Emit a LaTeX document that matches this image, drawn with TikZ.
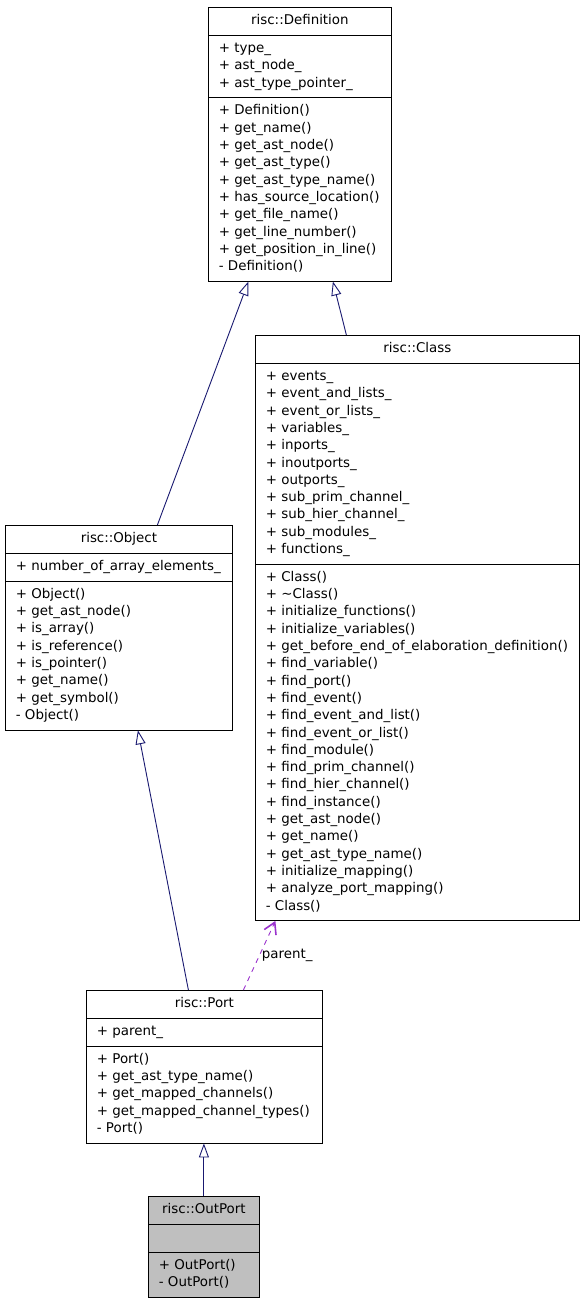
\documentclass[tikz,border=0pt]{standalone}
\usepackage{fontspec}
\setmainfont{DejaVu Sans}
\usetikzlibrary{shapes.multipart,arrows.meta}
\definecolor{navyline}{HTML}{191970}
\definecolor{usageline}{HTML}{9A32CD}
\definecolor{focusfill}{HTML}{BFBFBF}

\begin{document}
\begin{tikzpicture}
[x=1pt,y=-1pt,
umlclass/.style={rectangle split,rectangle split parts=3,draw=black,line width=0.8pt,fill=white,
  anchor=north west,inner xsep=10.5pt,inner ysep=4.85pt,align=left,
  rectangle split part align={center,left,left},font=\fontsize{13.4}{17.3}\selectfont},
umlfocus/.style={umlclass,fill=focusfill},
inherit/.style={draw=navyline,line width=0.9pt,-{Triangle[open,length=14pt,width=10pt]}},
usage/.style={draw=usageline,line width=0.9pt,dash pattern=on 5pt off 5pt,-{Straight Barb[length=11pt,width=13pt,line width=1.6pt]}},
edgeLabel/.style={font=\fontsize{13.4}{17.3}\selectfont,inner sep=1pt}]
\useasboundingbox (0,0) rectangle (584,1304);
% classes
\node[umlclass,minimum width=183pt] (def) at (208,7) {\strut risc::Definition\strut
\nodepart{two}\strut+ type\_\\+ ast\_node\_\\+ ast\_type\_pointer\_\strut
\nodepart{three}\strut+ Definition()\\+ get\_name()\\+ get\_ast\_node()\\+ get\_ast\_type()\\+ get\_ast\_type\_name()\\+ has\_source\_location()\\+ get\_file\_name()\\+ get\_line\_number()\\+ get\_position\_in\_line()\\- Definition()\strut};
\node[umlclass,minimum width=324pt] (cls) at (255,335) {\strut risc::Class\strut
\nodepart{two}\strut+ events\_\\+ event\_and\_lists\_\\+ event\_or\_lists\_\\+ variables\_\\+ inports\_\\+ inoutports\_\\+ outports\_\\+ sub\_prim\_channel\_\\+ sub\_hier\_channel\_\\+ sub\_modules\_\\+ functions\_\strut
\nodepart{three}\strut+ Class()\\+ \textasciitilde Class()\\+ initialize\_functions()\\+ initialize\_variables()\\+ get\_before\_end\_of\_elaboration\_definition()\\+ find\_variable()\\+ find\_port()\\+ find\_event()\\+ find\_event\_and\_list()\\+ find\_event\_or\_list()\\+ find\_module()\\+ find\_prim\_channel()\\+ find\_hier\_channel()\\+ find\_instance()\\+ get\_ast\_node()\\+ get\_name()\\+ get\_ast\_type\_name()\\+ initialize\_mapping()\\+ analyze\_port\_mapping()\\- Class()\strut};
\node[umlclass,minimum width=227pt] (obj) at (5,525) {\strut risc::Object\strut
\nodepart{two}\strut+ number\_of\_array\_elements\_\strut
\nodepart{three}\strut+ Object()\\+ get\_ast\_node()\\+ is\_array()\\+ is\_reference()\\+ is\_pointer()\\+ get\_name()\\+ get\_symbol()\\- Object()\strut};
\node[umlclass,minimum width=236pt] (port) at (86,990) {\strut risc::Port\strut
\nodepart{two}\strut+ parent\_\strut
\nodepart{three}\strut+ Port()\\+ get\_ast\_type\_name()\\+ get\_mapped\_channels()\\+ get\_mapped\_channel\_types()\\- Port()\strut};
\node[umlfocus,minimum width=111pt] (outport) at (148,1196) {\strut risc::OutPort\strut
\nodepart{two}\strut
\nodepart{three}\strut+ OutPort()\\- OutPort()\strut};
% relations
\draw[inherit] ([xshift=38.5pt]obj.north) -- ([xshift=-51.5pt]def.south);
\draw[inherit] ([xshift=-71pt]cls.north) -- ([xshift=33pt]def.south);
\draw[inherit] ([xshift=-16pt]port.north) -- ([xshift=19pt]obj.south);
\draw[inherit] (outport.north) -- (outport.north |- port.south);
\draw[usage] ([xshift=39pt]port.north) -- node[edgeLabel,right=1pt] (lblparent) {parent\_} ([xshift=-142pt]cls.south);
\end{tikzpicture}
\end{document}
